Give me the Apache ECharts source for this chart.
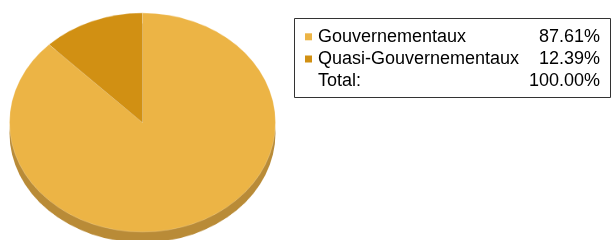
<!DOCTYPE html>
<html>
<head>
<meta charset="utf-8">
<script src="https://cdn.jsdelivr.net/npm/echarts@6/dist/echarts.min.js"></script>
<style>
  html, body { margin: 0; padding: 0; background: #fff; }
  #wrap { position: relative; width: 612px; height: 240px; overflow: hidden; }
  /* pie is drawn round, then squashed to get the tilted look */
  #pie {
    position: absolute; left: 0; top: 0; width: 290px; height: 310px;
    transform: scaleY(0.8233); transform-origin: 0 0;
  }
  #legend { position: absolute; left: 290px; top: 0; width: 322px; height: 240px; }
</style>
</head>
<body>
<div id="wrap">
  <div id="pie"></div>
  <div id="legend"></div>
</div>
<script>
const categories = ["Gouvernementaux", "Quasi-Gouvernementaux"];
const values = [87.61, 12.39];
const colors = ["#ecb445", "#d19013"];
const sideColor = "#b98b37";
const totalLabel = "Total:";

const fontFamily = "'Liberation Sans', Arial, sans-serif";

// ---- pie ----
let pieChart = echarts.init(document.getElementById("pie"));
pieChart.setOption({
  animation: false,
  series: [
    {
      // the thickness of the disc
      type: "pie",
      silent: true,
      center: [142.5, 161.5],
      radius: 133,
      label: { show: false },
      labelLine: { show: false },
      data: [{ value: 1, itemStyle: { color: sideColor } }],
    },
    {
      type: "pie",
      center: [142.5, 148.8],
      radius: 133,
      startAngle: 90,
      clockwise: true,
      label: { show: false },
      labelLine: { show: false },
      itemStyle: { borderColor: "rgba(255,255,255,0.35)", borderWidth: 0.6 },
      data: categories.map((name, i) => ({
        name: name,
        value: values[i],
        itemStyle: { color: colors[i] },
      })),
    },
  ],
});

// ---- legend box ----
let legendChart = echarts.init(document.getElementById("legend"));
let total = values.reduce((a, b) => a + b, 0);
let rowY = [36.8, 59, 80.8];
let elements = [
  {
    type: "rect",
    shape: { x: 4.5, y: 18.5, width: 316, height: 79 },
    style: { fill: "#fff", stroke: "#333", lineWidth: 1 },
  },
];
categories.forEach((name, i) => {
  elements.push({
    type: "rect",
    shape: { x: 15, y: rowY[i] - 3.5, width: 7, height: 7 },
    style: { fill: colors[i] },
  });
  elements.push({
    type: "text",
    x: 28, y: rowY[i],
    style: { text: name, fill: "#000", font: "18px " + fontFamily, verticalAlign: "middle" },
  });
  elements.push({
    type: "text",
    x: 310, y: rowY[i],
    style: { text: values[i].toFixed(2) + "%", fill: "#000", font: "18px " + fontFamily, align: "right", verticalAlign: "middle" },
  });
});
elements.push({
  type: "text",
  x: 28, y: rowY[2],
  style: { text: totalLabel, fill: "#000", font: "18px " + fontFamily, verticalAlign: "middle" },
});
elements.push({
  type: "text",
  x: 310, y: rowY[2],
  style: { text: total.toFixed(2) + "%", fill: "#000", font: "18px " + fontFamily, align: "right", verticalAlign: "middle" },
});
legendChart.setOption({ animation: false, graphic: { elements: elements } });
</script>
</body>
</html>
